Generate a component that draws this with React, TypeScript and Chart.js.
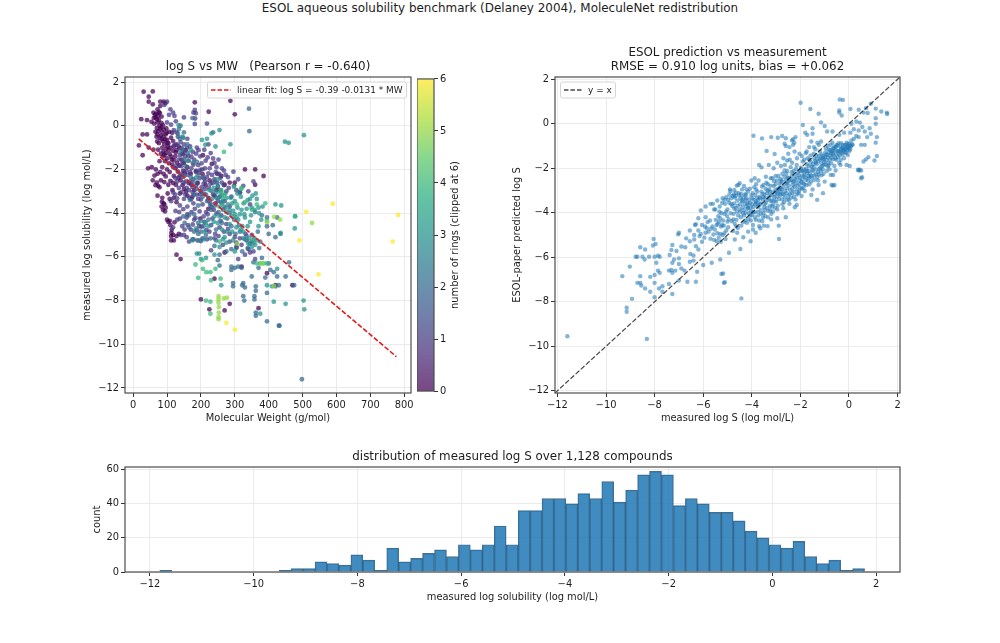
import { useEffect, useRef } from 'react'
import { Chart, registerables } from 'chart.js'

Chart.register(...registerables)

const FONT = '"DejaVu Sans", sans-serif'
const INK = '#1c1c1c'

const rings0 = [
  [31,1.56],[58,1.57],[46,1.33],[46,1.1],[58,0.98],[80,1.1],[90,1.1],[95,1.03],[80,0.9],[72,0.75],[182,1.07],[287,1.14],[300,0.52],[223,0.64],[24,0.3],[41,0.26],[54,0.18],[17,-0.9],[28,-0.4],[41,-0.4],[28,-1.35],[60,0.6],[64,0.5],[74,0.45],[70,0.3],[76,0.25],[72,0.15],[62,0.1],[78,0],[70,-0.1],[80,-0.15],[74,-0.25],[86,-0.3],[72,-0.4],[82,-0.45],[90,-0.5],[96,-0.4],[78,-0.55],[88,-0.7],[100,-0.65],[92,-0.85],[104,-0.8],[76,-0.8],[86,-1],[98,-1.05],[110,-1],[74,-1.1],[96,-1.25],[108,-1.3],[118,-1.15],[88,-1.4],[100,-1.5],[114,-1.55],[124,-1.4],[130,-1.7],[60,-1.1],[46,-1],[44,-1.95],[55,-1.9],[67,-2],[72,-2.2],[58,-2.5],[70,-2.6],[74,-2.75],[82,-2.5],[90,-2.2],[100,-2],[86,-1.9],[72,-3.2],[86,-3.3],[92,-3.6],[88,-3.85],[96,-3.75],[84,-3.7],[100,-4.3],[108,-4.35],[110,-4.55],[114,-4.75],[112,-5.05],[112,-5.25],[128,-5.05],[120,-5.25],[128,-5.9],[140,-6.1],[120,-2.3],[132,-2.1],[140,-2.5],[126,-2.7],[150,-2.9],[138,-3.1],[120,-3.3],[128,-3.5],[160,-3.2],[172,-2.7],[170,-2.2],[160,-1.9],[150,-1.7],[146,-1.3],[136,-1],[128,-0.85],[118,-0.7],[112,-0.55],
  [385,-2.3],[360,-2],[360,-2.7],[330,-2],[200,-3],[222,-3.3],[240,-3.2],[260,-2.3],[270,-2.7],[285,-2.6],[200,-7.95],[225,-8.4],[240,-7],[270,-8.45],[285,-8.15],[370,-8.35],[320,-6.45],[395,-6.75],[420,-7.3],[470,-7.3],[148,-2.05],[104,-2.7],[116,-2.95],[206,-1.35],[232,-1.75],[185,-2.1],[226,-2.5],[248,-2.2],[305,-5.55],[270,-5.8],
  [66,0.38],[68,0.55],[61,0.35],[79,0.58],[84,0.12],[88,0.02],[66,-0.28],[69,-0.5],[83,-0.08],[91,-0.18],[94,-0.62],[99,-0.32],[102,-0.95],[84,-0.62],[71,-0.72],[89,-1.18],[93,-1.33],[105,-1.12],[112,-1.42],[82,-1.28],[120,-1.58],[126,-1.22],[116,-1.78],[106,-1.72],[94,-1.62],[78,-1.62],[80,-2.12],[96,-2.32],[108,-2.12],[63,-2.28],[66,-2.72],[78,-2.82],[92,-2.58],[110,-2.52],[118,-2.62],[134,-2.38],[146,-2.72],[156,-3.02],[85,-3.48],[94,-3.92],[90,-3.55],[102,-3.1],[108,-3.35],[104,-4.4],[113,-4.9],[122,-4.42],[118,-5],[135,-4.95],[125,-1.95],[137,-1.82],[143,-1.55],[152,-2.18],[164,-2.62],[155,-1.12],[128,-1.12],[98,-0.12],[106,-0.28],[76,0.62],[84,0.42],[101,-0.78],[120,-0.95],[115,-0.32],[175,-3.25],[190,-2.62],[205,-2.22],[180,-2.95],[214,-2.72],[246,-2.95],[300,-2.6],[315,-3.05],[222,-3.8],[198,-4.25]
]
const rings1 = [
  [100,1.1],[92,0.95],[110,0.75],[118,0.6],[122,0.45],[106,0.5],[126,0.2],[100,0.15],[112,0.05],[150,0.38],[182,0.72],[185,0.57],[178,0.6],[183,0.33],[182,0.08],[218,0.1],[120,-0.2],[132,-0.5],[140,-0.75],[150,-0.85],[160,-0.6],[168,-0.95],[176,-1.2],[188,-1],[198,-1.4],[210,-1.1],[222,-0.85],[118,-1.9],[134,-1.55],[142,-1.85],[154,-1.4],[164,-1.6],[172,-1.95],[180,-1.55],[192,-1.8],[204,-2],[214,-1.6],[226,-1.95],[236,-1.5],[246,-1.9],[254,-2.2],[268,-2.05],[280,-2.35],[296,-2.1],[310,-2.45],[125,-2.4],[135,-2.85],[145,-2.35],[155,-2.55],[165,-2.95],[178,-2.45],[186,-2.75],[196,-2.4],[208,-2.65],[218,-2.35],[228,-2.65],[240,-2.45],[250,-2.8],[262,-2.6],[275,-3],[290,-3.25],[305,-2.95],[112,-3.45],[125,-3.9],[138,-3.65],[150,-3.35],[160,-3.7],[172,-3.35],[182,-3.8],[192,-3.35],[205,-3.6],[215,-3.95],[228,-3.55],[238,-3.85],[250,-3.45],[130,-4.3],[145,-4.6],[158,-4.2],[170,-4.75],[180,-4.3],[195,-4.6],[210,-4.4],[225,-4.85],[118,-4.65],[150,-5],[165,-5.3],[178,-5.2],[205,-5.15],[260,-4.1],[275,-4.5],[285,-4.95],[300,-5.1],[320,-5.45],[340,-5.65],[350,-5],[310,-6.1],[330,-5.9],[360,-6.1],[230,-5.7],[218,-5.2],[190,-5.25],[124,-3.15],[142,-2.2],[160,-2.25],[194,-2.15],[212,-2.9],[236,-3.15],[258,-2.95],[198,-3.15],[176,-3.05],[270,-3.45],[285,-3.7],[355,-2.55],[340,-3],[325,-2.75],
  [128,-0.3],[122,-0.88],[133,-0.92],[143,-1.02],[150,-1.22],[158,-1.02],[163,-1.38],[172,-1.42],[186,-1.28],[193,-1.12],[202,-1.72],[212,-1.95],[220,-1.45],[229,-1.25],[240,-1.7],[252,-1.55],[262,-1.95],[273,-2.25],[130,-1.85],[138,-1.35],[146,-1.68],[157,-2.05],[168,-2.12],[178,-1.78],[186,-2.05],[198,-2.02],[209,-2.42],[222,-2.18],[233,-2.25],[244,-2.12],[258,-2.38],[130,-2.55],[138,-2.28],[149,-2.62],[158,-2.85],[168,-2.55],[176,-2.82],[190,-2.62],[202,-2.82],[213,-2.55],[224,-2.85],[235,-2.62],[248,-2.62],[268,-2.72],[282,-2.85],[298,-2.75],[118,-3.05],[130,-3.32],[142,-3.05],[154,-3.15],[166,-3.3],[178,-3.55],[188,-3.15],[200,-3.38],[210,-3.12],[222,-3.42],[232,-3.72],[243,-3.55],[255,-3.25],[136,-3.95],[148,-3.82],[160,-4.05],[172,-3.95],[184,-4.22],[196,-3.92],[208,-4.15],[220,-4.05],[234,-4.25],[246,-4.02],[258,-4.35],[138,-4.25],[152,-4.75],[162,-4.55],[176,-4.52],[188,-4.78],[202,-4.62],[216,-4.78],[230,-4.55],[242,-4.95],[255,-4.65],[268,-4.85],[280,-4.72],[140,-5],[158,-5.1],[200,-5.28],[240,-5.15],[252,-5.05],[265,-5.45],[285,-5.3],[305,-5.35],[315,-5.15],[335,-5.25],[345,-5.8],[355,-5.75],[332,-4.95],[345,-3.6]
]
const rings2 = [
  [342,0.78],[343,-0.25],[236,-0.3],[140,0],[135,-0.15],[148,-0.55],[175,0.35],[140,-1.2],[155,-1.85],[170,-2.35],[150,-2.3],[188,-2.9],[200,-3],[215,-3.15],[232,-3],[245,-3.3],[260,-3.5],[272,-3.75],[285,-4],[298,-4.3],[312,-4.55],[262,-4.45],[245,-4.75],[180,-4.05],[165,-4.1],[152,-4.45],[192,-4.95],[175,-5.2],[200,-4.85],[215,-5],[240,-5.5],[255,-5.9],[275,-5.75],[290,-5.65],[305,-5.6],[322,-5.75],[338,-5.6],[345,-5.4],[375,-5.3],[250,-6.15],[255,-6.4],[290,-6.6],[290,-6.45],[310,-6.45],[320,-6.5],[295,-7.2],[295,-7.35],[325,-7.2],[322,-7.3],[330,-7.4],[350,-6.9],[362,-7.35],[362,-7.55],[325,-7.8],[328,-8],[358,-7.8],[358,-7.95],[395,-7.65],[362,-8.55],[362,-8.7],[395,-8.95],[430,-9.15],[432,-9.15],[498,-11.6],[400,-6.3],[405,-6.6],[415,-6.7],[425,-6.9],[430,-7.3],[420,-7.35],[400,-4.95],[395,-4.6],[412,-4.55],[460,-6.25],[475,-7.3],[450,-6.9],[420,-5.1],[435,-4.95],[380,-4.1],[360,-3.95],[395,-4.2],[425,-4.2],[380,-6.05],[372,-5.6],[315,-3.05],[228,-3.65],[222,-4.3],[146,-1.1],[188,-1.65],[206,-2.35],[242,-2.55],
  [132,-0.35],[138,-0.6],[150,-0.3],[160,-0.85],[150,-1.55],[162,-1.25],[176,-1.7],[190,-2.25],[176,-2.6],[168,-3.4],[180,-3.15],[192,-3.65],[205,-3.25],[218,-3.45],[230,-3.85],[242,-3.65],[252,-3.95],[265,-3.85],[278,-4.25],[290,-4.6],[302,-4.95],[315,-4.85],[325,-5.15],[335,-5.05],[350,-5.3],[358,-5.15],[368,-4.85],[148,-4.15],[165,-4.65],[180,-4.85],[192,-4.45],[208,-4.6],[228,-5.15],[245,-5.25],[300,-6.5],[370,-6.5],[390,-6.95],[355,-6.25]
]
const rings3 = [
  [448,-0.73],[459,-0.78],[504,-0.43],[255,-0.2],[134,0.03],[145,-0.5],[203,-0.65],[218,-0.6],[213,-0.87],[243,-0.95],[231,-0.35],[287,-0.85],[160,-1.6],[170,-1.1],[185,-2.4],[250,-2.75],[258,-3.05],[265,-3.4],[272,-3.1],[280,-3.6],[288,-3.3],[295,-3.9],[300,-3.45],[308,-3.75],[318,-3.25],[326,-3.55],[335,-3.8],[345,-3.35],[352,-3.2],[362,-3.1],[370,-3.75],[382,-3.7],[378,-4.3],[345,-4.4],[330,-4.2],[315,-4.05],[305,-4.65],[285,-4.5],[270,-4.2],[255,-4.15],[238,-4.4],[222,-4.6],[210,-4.85],[195,-5.25],[175,-5.25],[265,-5.2],[275,-5.35],[295,-5.25],[340,-5.4],[350,-5.55],[360,-5.45],[420,-3.6],[437,-3.65],[478,-4.14],[477,-4.7],[450,-8.15],[503,-8],[505,-8.4],[375,-8.6],[395,-7.3],[415,-8.05],[410,-7.35],[195,-5.85],[188,-5.85],[210,-5.2],[240,-5.9],[260,-7.3],[255,-3.7],[275,-3.95],[292,-4.15],[308,-3.1],[322,-4.6],[250,-2.45],[262,-3.2],[338,-4.6],[350,-3.75],[325,-4.85],[232,-3.35],[300,-5.75],[425,-6.55],[435,-4.9],[270,-5.1],
  [225,-2.95],[238,-2.85],[245,-3.05],[252,-3.3],[262,-3.55],[268,-3.7],[276,-3.3],[284,-3.85],[292,-3.55],[300,-4.05],[310,-4.3],[320,-3.85],[328,-4.05],[338,-3.4],[348,-4.1],[358,-3.85],[365,-3.35],[372,-4],[240,-4.15],[250,-4.45],[262,-4.75],[278,-4.85],[292,-4.85],[305,-4.2],[318,-4.75],[330,-5.2],[342,-5.15],[355,-5.35],[365,-5.25],[215,-4.45],[200,-4.35],[185,-4.7],[255,-5.55],[200,-6.1],[215,-6.05],[370,-4.6]
]
const rings4 = [
  [184,-6.35],[204,-6.15],[192,-6.96],[206,-6.55],[228,-6.7],[243,-6.55],[216,-6.7],[230,-7.07],[258,-7],[215,-8],[228,-8.05],[228,-8.6],[395,-6.3],[365,-6.3],[375,-6.3],[385,-6.3],[297,-2.8],[319,-2.9],[268,-1.2],[320,-2.85],[260,-2.95],[268,-3.2],[306,-3.6],[330,-3.5],[350,-3.85],[365,-3.6],[390,-3.55],[355,-5.2],[255,-5.3],[478,-4.15],[395,-4.35]
]
const rings5 = [
  [252,-7.8],[252,-7.95],[252,-8.1],[253,-8.3],[253,-8.55],[252,-8.75],[252,-8.85],[268,-7.9],[277,-7.87],[380,-6.3],[416,-4.17],[434,-4.3],[395,-4.4],[528,-4.45],[307,-5.4],[416,-7.33]
]
const rings6 = [
  [589,-3.57],[511,-3.94],[782,-4.08],[491,-5.25],[766,-5.3],[547,-6.8],[275,-9.02],[300,-9.33]
]
const ringGroups = [rings0, rings1, rings2, rings3, rings4, rings5, rings6]

// viridis at 0, 1/6 .. 1
const ringColors = [
  'rgba(68,1,84,0.72)', 'rgba(68,57,131,0.72)', 'rgba(49,104,142,0.72)', 'rgba(33,145,140,0.72)',
  'rgba(53,183,121,0.72)', 'rgba(144,215,67,0.72)', 'rgba(253,231,37,0.72)'
]
const colorbarStops = [
  'rgba(68,1,84,0.72)', 'rgba(71,44,122,0.72)', 'rgba(59,81,139,0.72)', 'rgba(44,113,142,0.72)', 'rgba(33,144,141,0.72)',
  'rgba(39,173,129,0.72)', 'rgba(92,200,99,0.72)', 'rgba(170,220,50,0.72)', 'rgba(253,231,37,0.72)'
]

const fitX = [16.5, 777]
const fitY = [-0.6, -10.57]

// tick positions
const mwTicks = [0, 100, 200, 300, 400, 500, 600, 700, 800]
const logTicks = [-12, -10, -8, -6, -4, -2, 0, 2]
const countTicks = [0, 20, 40, 60]

// ESOL predicted vs measured [measured, predicted]
const predicted = [
  [-11.59,-9.55],[-8.32,-9.67],[-4.43,-7.85],[-9.33,-6.85],[-9.02,-6.42],[-8.78,-5.98],[-8.71,-5.98],[-8.5,-5.98],[-8.41,-6.1],[-8.23,-5.98],[-8,-5.98],[-7.86,-5.93],[-7.79,-5.98],[-8.59,-5.55],[-8.39,-5.65],[-8.04,-5.18],[-7.96,-5.4],[-8.07,-5.47],[-7.93,-6.25],[-8.59,-6.85],[-8.71,-7.15],[-8.59,-7.15],[-8.55,-7.27],[-8.39,-7.4],[-8.18,-7.55],[-8.18,-6.88],[-8,-6.8],[-7.86,-6.6],[-7.79,-6.7],[-8,-7.15],[-7.82,-7.4],[-7.68,-7.3],[-7.41,-7.2],[-8.93,-7.87],[-9.15,-8.27],[-9.15,-8.45],[-8,-7.8],[-7.68,-7.55],[-7.27,-7.65],[-7.41,-6.6],[-7.31,-6.57],[-7.27,-6.25],[-7.38,-5.9],[-7.31,-5.67],[-7.27,-5.45],[-7.1,-5.72],[-6.9,-5.52],[-6.74,-5.55],[-6.53,-5.85],[-6.4,-5.92],[-7.2,-6.1],[-7,-6.05],[-7,-6.3],[-7.27,-6.7],[-7.15,-6.6],[-6.9,-6.5],[-6.77,-6.6],[-6.55,-6.2],[-6.4,-6.15],[-7,-7.05],[-6.65,-7.1],[-6.3,-7.1],[-6.25,-6.65],[-6,-6.35],[-5.65,-6.25],[-5.25,-6.75],[-5.15,-7.15],[-7,-4.9],[-7.03,-4.97],[-6.55,-4.8],[-6.7,-5.15],[-6.55,-5.28],[-6.37,-5.2],[-6.3,-5.5],[-6.2,-5.65],[-6.3,-4.52],[-6.34,-4.55],[-6.2,-4.8],[-6.37,-5],[-6.1,-4.95],[-5.9,-4.9],[-5.85,-4.7],[-6.05,-4.55],[-5.9,-4.2],[-6.1,-3.9],[-5.9,-3.72],[-5.7,-3.6],[-5.55,-3.85],[-5.4,-4.5],[-5.45,-4.55],[-5.35,-4.4],[-5.7,-5.17],[-5.55,-5.22],[-5.3,-4.95],[-5.2,-5],[-5.05,-4.8],[-5,-4.4],
  [-5.6,-3.6],[-5.5,-3.85],[-5.3,-4.25],[-5.2,-3.35],[-5.1,-3.6],[-5.05,-3.3],[-5,-3.85],[-4.95,-4.3],[-4.9,-2.95],[-4.85,-3.35],[-4.8,-3.7],[-4.75,-4.05],[-4.7,-4.5],[-4.65,-3.1],[-4.6,-3.45],[-4.55,-2.75],[-4.5,-3.85],[-4.45,-4.2],[-4.4,-2.95],[-4.35,-3.3],[-4.3,-3.6],[-4.25,-4],[-4.2,-4.45],[-4.15,-3.05],[-4.1,-3.4],[-4.05,-3.75],[-4,-4.1],[-3.95,-4.55],[-3.9,-2.85],[-3.85,-3.2],[-3.8,-3.55],[-3.75,-3.95],[-3.7,-4.35],[-3.65,-4.7],[-3.6,-3.05],[-3.55,-3.4],[-3.5,-3.75],[-3.45,-4.15],[-3.4,-2.65],[-3.35,-3],[-3.3,-3.35],[-3.25,-3.7],[-3.2,-4.05],[-3.15,-2.45],[-3.1,-2.8],[-3.05,-3.15],[-3,-3.5],[-2.95,-3.85],[-2.9,-2.35],[-2.85,-2.7],[-2.8,-3.05],[-2.75,-3.4],[-2.7,-3.8],[-2.65,-2.1],[-2.6,-2.55],[-2.55,-2.9],[-2.5,-3.25],[-2.45,-3.6],[-2.4,-1.95],[-2.35,-2.35],[-2.3,-2.75],[-2.25,-3.05],[-2.2,-3.4],[-2.15,-1.85],[-2.1,-2.2],[-2.05,-2.55],[-2,-2.9],[-1.95,-3.25],
  [-4.88,-3.02],[-4.78,-3.25],[-4.72,-3.82],[-4.62,-3.95],[-4.48,-3.62],[-4.38,-3.75],[-4.28,-3.18],[-4.18,-3.55],[-4.12,-4.02],[-4.02,-3.22],[-3.98,-3.62],[-3.88,-3.98],[-3.78,-3.35],[-3.72,-3.72],[-3.62,-4.05],[-3.58,-2.82],[-3.48,-3.18],[-3.42,-3.55],[-3.32,-3.92],[-3.28,-2.95],[-3.18,-3.22],[-3.12,-3.62],[-3.02,-2.72],[-2.98,-3.05],[-2.88,-3.38],[-2.82,-2.48],[-2.72,-2.85],[-2.68,-3.18],[-2.58,-2.25],[-2.52,-2.62],[-2.42,-2.98],[-2.38,-3.32],[-2.28,-2.12],[-2.22,-2.48],[-2.12,-2.78],[-2.08,-3.12],[-1.98,-1.98],[-1.92,-2.32],[-1.88,-2.68],[-1.82,-3.02],[-4.42,-3.45],[-4.58,-3.68],[-4.32,-4.12],[-4.22,-3.72],[-4.08,-2.92],[-3.92,-3.42],[-3.82,-2.95],[-3.68,-3.28],[-3.52,-4.02],[-3.38,-3.12],[-3.22,-3.48],[-3.08,-2.58],[-2.92,-2.92],[-2.78,-2.62],[-2.62,-3.02],[-2.48,-2.42],[-2.32,-2.62],[-2.18,-2.02],[-2.02,-2.42],[-1.9,-2.12],
  [-3.93,-0.54],[-3.58,-0.66],[-2.93,-0.63],[-3.39,-1.22],[-3.06,-1.36],[-3.7,-1.85],[-3.6,-1.96],[-3.88,-2.45],[-4.5,-2.67],[-2.88,-5.18],[-2.89,-4.58],[-3.5,-4.58],[-3.84,-4.9],[-4.05,-5.28],[-4.47,-5.63],[-4.94,-5.8],[-5.18,-6.73],[-5.11,-7.12],[-5.3,-6.1],[-2.23,-3.75],[-2.15,-3.65],[-1.55,-3.2],[-1.31,-3.42],[-1.07,-3.12],[-0.72,-2.75],[-0.66,-2.78],[0.03,-1.9],[0.37,-2.07],[0.44,-2.07],[0.54,-2.4],[-3.7,-4.6],[-3.35,-4.6],[-3.2,-4.3],[-2.95,-4.25],[-2.6,-4.2],[-4.6,-4.9],[-4.35,-5.1],[-4.15,-4.85],[-4.7,-5.2],[-3.95,-4.75],[-2.5,-1.35],[-2.45,-1.05],[-2.35,-0.75],[-2.3,-0.95],[-2.2,-0.6],[-2.55,-1.65],[-3.3,-1.85],[-3.1,-2],[-2.95,-1.75],[-2.8,-1.9],[-2.7,-1.55],
  [-1.99,0.94],[-1.59,0.66],[-1.25,0.45],[-0.38,1.09],[-0.25,1.07],[-0.4,0.6],[-0.4,0.5],[-0.3,0.37],[0.06,0.66],[0.4,0.63],[0.7,0.7],[0.6,0.5],[0.77,0.48],[0.9,0.9],[1.1,0.68],[1.33,0.55],[1.56,0.5],[1.57,0.44],[-1.9,-0.06],[-1.15,0.06],[-1,-0.1],[-1.5,-0.2],[-1.8,-0.4],[-1.72,-0.5],[-1.5,-0.45],[-3.2,-0.6],[-2.75,-0.55],[-2.6,-0.65],[-2.65,-0.9],[-2.3,-0.7],[-2.25,-0.85],[-2.6,-1],[-1.55,-0.8],[-1.3,-0.85],[-1.15,-0.8],[-0.9,-0.35],[-0.68,-0.35],[-0.4,-0.5],[-0.2,-0.4],[0.06,-0.4],[0.2,-0.25],[0.4,-0.3],[0.1,0],[0.3,0.1],[1.1,0.25],[1.1,0],[0.85,-0.2],[0.9,-0.45],[1.15,-0.6],[1.1,-0.85],[0.65,-0.95],[0.4,-0.6],[0.05,-1],[1.15,-1.45],[0.8,-1.5],[0.7,-1.6],[0.6,-1.7],[1.05,-1.65],[-0.1,-1.85],[-0.35,-1.85],[-0.55,-2.1],[0.4,-2.1],[0.5,-2.1],[0.5,-2.45],[-0.6,-2.75],[-0.75,-2.3],[-0.65,-2.3],
  [-1.9,-1.7],[-1.85,-2.05],[-1.8,-2.4],[-1.75,-2.75],[-1.7,-1.55],[-1.65,-1.9],[-1.6,-2.25],[-1.55,-2.6],[-1.5,-2.95],[-1.45,-1.35],[-1.4,-1.7],[-1.35,-2.05],[-1.3,-2.4],[-1.25,-2.75],[-1.2,-1.25],[-1.15,-1.55],[-1.1,-1.9],[-1.05,-2.25],[-1,-2.6],[-0.95,-1.1],[-0.9,-1.4],[-0.85,-1.75],[-0.8,-2.05],[-0.75,-0.95],[-0.7,-1.25],[-0.65,-1.6],[-0.6,-1.9],[-0.55,-1.2],[-0.5,-0.95],[-0.45,-1.5],[-0.4,-1.75],[-0.35,-1.05],[-0.3,-1.3],[-0.25,-0.95],[-0.2,-1.55],[-0.15,-1.15],[-0.1,-0.85],[-0.05,-1.4],[0,-0.9],[0.05,-1.15],[0.1,-0.75],[0.15,-0.95],[-1.72,-2.12],[-1.62,-1.62],[-1.52,-2.08],[-1.42,-2.52],[-1.32,-1.58],[-1.22,-2.02],[-1.12,-1.38],[-1.02,-1.72],[-0.92,-2.12],[-0.82,-1.28],[-0.72,-1.52],[-0.62,-1.08],[-0.52,-1.62],[-0.42,-1.22],[-0.32,-0.88],[-0.22,-1.18],[-0.12,-1.32],[-0.02,-1.08],[-1.78,-1.32],[-1.68,-2.55],[-1.58,-1.42],[-1.48,-1.82],[-1.38,-1.15],[-1.28,-2.18],[-1.18,-1.62],[-1.08,-2.05],[-0.98,-1.5],[-0.88,-0.98],[-0.78,-1.62],[-0.68,-0.85],[0.3,-0.55],[0.5,-0.95],[0.2,-0.68],[0.75,-0.6],[0.55,-0.15],[0.65,-0.35],[0.45,0.05],
  [-5.62,-4.62],[-5.58,-4.98],[-5.44,-5.28],[-5.36,-5.12],[-5.27,-4.62],[-5.18,-4.35],[-5.13,-4.92],[-5.08,-5.18],[-4.97,-4.65],[-4.93,-3.55],[-4.87,-4.02],[-4.82,-4.38],[-4.77,-4.82],[-4.73,-3.58],[-4.68,-3.25],[-4.63,-4.32],[-4.57,-4.68],[-4.52,-3.22],[-4.47,-3.95],[-4.43,-4.58],[-4.37,-3.48],[-4.33,-3.88],[-4.27,-4.35],[-4.23,-3.35],[-4.17,-3.82],[-4.13,-4.28],[-4.07,-3.55],[-4.03,-3.92],[-3.97,-3.35],[-3.93,-3.75],[-3.87,-4.2],[-3.83,-3.52],[-3.77,-3.05],[-3.73,-4.12],[-3.67,-3.62],[-3.63,-3.88],[-3.57,-4.38],[-3.53,-3.3],[-3.47,-3.62],[-3.43,-2.92],[-3.37,-3.78],[-3.33,-4.2],[-3.27,-3.22],[-3.23,-2.78],[-3.17,-3.45],[-3.13,-3.95],[-3.07,-3.3],[-3.03,-2.98],[-2.97,-3.28],[-2.93,-3.68],[-2.87,-2.95],[-2.83,-3.22],[-2.77,-2.55],[-2.73,-3.15],[-2.67,-3.52],[-2.63,-2.72],[-2.57,-3.12],[-2.53,-2.42],[-2.47,-2.78],[-2.43,-3.15],[-2.37,-2.52],[-2.33,-2.92],[-2.27,-3.28],[-2.23,-2.28],[-2.17,-2.65],[-2.13,-2.95],[-2.07,-2.32],[-2.03,-2.72],[-1.97,-2.12],[-1.93,-2.52],[-1.87,-2.88],[-1.83,-2.18],[-1.77,-2.52],[-1.73,-1.82],[-1.67,-2.35],[-1.63,-2.72],[-1.57,-1.72],[-1.53,-2.42],[-1.47,-2.12],[-1.43,-1.55],[-1.37,-2.28],[-1.33,-1.82],[-1.27,-2.55],[-1.23,-1.45],[-1.17,-1.95],[-1.13,-2.32],[-1.07,-1.55],[-1.03,-1.85],[-0.97,-1.28],[-0.93,-1.62],[-0.87,-1.92],[-0.83,-1.15],[-0.77,-1.42],[-0.73,-1.78],[-0.67,-1.12],[-0.63,-1.42],[-0.57,-1.02],[-0.53,-1.38],[-0.47,-1.22],[-0.43,-0.88],[-0.37,-1.42],[-0.33,-1.15],[-0.27,-1.08],[-0.23,-1.22],[-0.17,-0.98],[-0.13,-1.12],[-0.07,-1.02],[-0.03,-0.92],
  [-4.92,-3.18],[-4.84,-3.62],[-4.7,-3.32],[-4.66,-3.78],[-4.54,-3.12],[-4.46,-3.35],[-4.36,-4.02],[-4.26,-3.42],[-4.16,-3.62],[-4.06,-4.12],[-3.96,-3.12],[-3.86,-3.62],[-3.76,-3.72],[-3.66,-3.35],[-3.56,-3.15],[-3.46,-3.88],[-3.36,-3.42],[-3.26,-3.05],[-3.16,-3.72],[-3.06,-3.45],[-2.96,-2.55],[-2.86,-3.15],[-2.76,-2.95],[-2.66,-2.38],[-2.56,-2.68],[-2.46,-3.42],[-2.36,-2.18],[-2.26,-2.58],[-2.16,-2.42],[-2.06,-3.05],[-1.96,-2.62],[-1.86,-2.35],[-1.76,-2.02],[-1.66,-2.12],[-1.56,-2.35],[-1.46,-1.95],[-1.36,-1.75],[-1.26,-1.68],[-1.16,-2.12],[-1.06,-1.45],[-0.96,-1.82],[-0.86,-1.52],[-0.76,-1.18],[-0.66,-1.35],[-0.56,-1.55],[-0.46,-0.98],[-0.36,-1.25],[-0.26,-1.38],[-0.16,-1.28],[-0.06,-1.18],[0.02,-1.22],[0.12,-0.92],[-2.74,-2.25],[-2.54,-2.12],[-2.34,-1.75],[-2.14,-1.55],[-2.04,-1.35],[-2.24,-1.25],[-1.94,-1.45],[-1.74,-1.25],[-1.64,-1.05],[-1.44,-1.05],[-1.24,-0.95],[-1.84,-1.62],[-2.44,-1.62],[-2.64,-1.85],[-3.02,-2.35],[-3.22,-2.45],[-3.42,-2.38],[-3.52,-2.75],[-3.72,-2.55],[-3.82,-2.72],[-4.02,-2.55],[-4.22,-2.95],[-4.32,-2.8],[-4.62,-2.78],[-4.72,-2.98],[-5.22,-3.55],[-5.32,-3.72],[-5.42,-3.45],[-5.12,-4.05],[-5.02,-4.15],[-5.25,-4.02],[-5.15,-4.58],
  [-6.2,-4.25],[-6.15,-5.05],[-6.05,-5.3],[-5.95,-5.12],[-5.92,-4.62],[-5.82,-4.42],[-5.78,-4.85],[-5.72,-4.35],[-5.68,-4.72],[-5.52,-4.75],[-5.48,-4.32],[-5.42,-4.92],[-5.38,-4.15],[-5.33,-3.95],[-5.28,-5.3],[-5.22,-4.55],[-5.12,-3.42],[-5.06,-3.95],[-4.98,-3.42],[-4.76,-4.3],[-4.74,-3.18],[-4.64,-4.62],[-4.56,-4.12],[-4.44,-3.15],[-4.34,-4.42],[-4.24,-3.18],[-4.14,-3.78],[-4.04,-4.35],[-3.94,-3.98],[-3.84,-4.32],[-3.74,-3.42],[-3.64,-3.58],[-3.54,-4.22],[-3.44,-3.32],[-3.34,-2.72],[-3.24,-3.88],[-3.14,-3.08],[-3.04,-3.78],[-2.94,-3.12],[-2.84,-2.88],[-2.74,-3.62],[-2.64,-3.32],[-2.54,-3.42],[-2.44,-2.55],[-2.34,-3.12],[-2.24,-2.82],[-2.14,-3.18],[-2.04,-2.12],[-1.94,-2.92],[-1.84,-2.72],[-1.74,-2.22],[-1.64,-2.42],[-1.54,-1.92],[-1.44,-2.32],[-1.34,-1.42],[-1.24,-2.28],[-1.14,-1.78],[-1.04,-1.62],[-0.94,-1.38],[-0.84,-1.88],[-0.74,-1.32],[-0.64,-1.22],[-0.54,-1.05],[-0.44,-1.32],[-0.34,-1.62],[-0.24,-1.12],[-0.14,-0.95],[-0.04,-1.05],[0.08,-1.02]
]

const histCenters = [
  -11.695,-11.465,-11.234,-11.004,-10.774,-10.544,-10.313,-10.083,-9.853,-9.622,-9.392,-9.162,-8.931,-8.701,-8.471,-8.241,-8.01,-7.78,-7.55,-7.319,-7.089,-6.859,-6.629,-6.398,-6.168,-5.938,-5.707,-5.477,-5.247,-5.016,-4.786,-4.556,-4.326,-4.095,-3.865,-3.635,-3.404,-3.174,-2.944,-2.714,-2.483,-2.253,-2.023,-1.792,-1.562,-1.332,-1.101,-0.871,-0.641,-0.411,-0.18,0.05,0.28,0.511,0.741,0.971,1.202,1.432,1.662
]
const histCounts = [
  1,0,0,0,0,0,0,0,0,0,1,2,2,6,5,4,10,7,1,14,6,8,11,13,9,16,13,16,27,16,36,36,43,43,40,46,43,53,41,48,57,59,57,39,43,40,35,35,30,24,20,16,14,18,9,5,7,1,2
]

const minusTick = (v) => String(v).replace('-', '\u2212')

const axis = (min, max, tickList, title, size) => ({
  type: 'linear',
  min,
  max,
  bounds: 'data',
  afterFit: (s) => {
    if (s.isHorizontal()) s.height = size
    else s.width = size
  },
  afterBuildTicks: (s) => {
    s.ticks = tickList.map((value) => ({ value }))
  },
  title: { display: true, text: title, color: INK, font: { family: FONT, size: 9.9, lineHeight: '12px' }, padding: 0 },
  ticks: { maxRotation: 0, autoSkip: false, color: INK, font: { family: FONT, size: 9.9 }, padding: 2, callback: minusTick },
  grid: { color: '#ebebeb', lineWidth: 1, tickColor: '#333', tickLength: 4 },
  border: { display: false }
})

const titleOpts = (text) => ({
  display: true,
  fullSize: false,
  text,
  color: INK,
  font: { family: FONT, size: 11.9, weight: 'normal', lineHeight: Array.isArray(text) ? '14px' : '15px' },
  padding: { top: 2, bottom: 3 }
})

// matplotlib style box round the axes
const framePlugin = {
  id: 'frame',
  afterDraw(chart) {
    const { ctx, chartArea: a } = chart
    ctx.save()
    ctx.strokeStyle = '#4d4d4d'
    ctx.lineWidth = 1.2
    ctx.strokeRect(a.left, a.top, a.right - a.left, a.bottom - a.top)
    ctx.restore()
  }
}

const legendPlugin = (text, color, boxX, boxW, lineW, align) => ({
  id: 'legendBox',
  afterDraw(chart) {
    const { ctx, chartArea: a } = chart
    const x = align === 'right' ? a.right - boxX - boxW : a.left + boxX
    const y = a.top + 5
    ctx.save()
    ctx.fillStyle = 'rgba(255,255,255,0.85)'
    ctx.strokeStyle = '#d6d6d6'
    ctx.lineWidth = 1
    ctx.beginPath()
    ctx.roundRect(x, y, boxW, 16, 2)
    ctx.fill()
    ctx.stroke()
    ctx.strokeStyle = color
    ctx.lineWidth = 1.6
    ctx.setLineDash([4.5, 2])
    ctx.beginPath()
    ctx.moveTo(x + 3.5, y + 8)
    ctx.lineTo(x + 3.5 + lineW, y + 8)
    ctx.stroke()
    ctx.setLineDash([])
    ctx.fillStyle = INK
    ctx.font = `8.95px ${FONT}`
    ctx.textBaseline = 'middle'
    ctx.fillText(text, x + 3.5 + lineW + 6, y + 8.5)
    ctx.restore()
  }
})

// chart.js only rotates a right hand title clockwise, this one reads bottom-up
const colorbarTitle = {
  id: 'colorbarTitle',
  afterDraw(chart) {
    const { ctx, chartArea: a } = chart
    ctx.save()
    ctx.translate(a.right + 21, (a.top + a.bottom) / 2)
    ctx.rotate(-Math.PI / 2)
    ctx.fillStyle = INK
    ctx.font = `9.9px ${FONT}`
    ctx.textAlign = 'center'
    ctx.textBaseline = 'middle'
    ctx.fillText('number of rings (clipped at 6)', 0, 0)
    ctx.restore()
  }
}

const scatterConfig = {
  type: 'scatter',
  data: {
    datasets: [
      {
        data: fitX.map((x, i) => ({ x, y: fitY[i] })),
        showLine: true,
        pointRadius: 0,
        borderColor: '#e31a1c',
        borderWidth: 1.6,
        borderDash: [5, 2]
      },
      ...ringGroups.map((group, i) => ({
        data: group.map(([x, y]) => ({ x, y })),
        pointRadius: 2.4,
        pointBorderWidth: 0,
        pointBackgroundColor: ringColors[i]
      })).reverse()
    ]
  },
  options: {
    responsive: false,
    animation: false,
    layout: { padding: { right: 5 } },
    plugins: {
      legend: { display: false },
      tooltip: { enabled: false },
      title: titleOpts('log S vs MW   (Pearson r = -0.640)')
    },
    scales: {
      x: axis(-24, 820, mwTicks, 'Molecular Weight (g/mol)', 31),
      y: axis(-12.23, 2.23, logTicks, 'measured log solubility (log mol/L)', 44)
    }
  },
  plugins: [framePlugin, legendPlugin('linear fit: log S = -0.39 -0.0131 * MW', '#e31a1c', 4.5, 199, 20, 'right')]
}

const colorbarConfig = {
  type: 'bar',
  data: {
    labels: ['rings'],
    datasets: [{
      data: [6],
      barPercentage: 1,
      categoryPercentage: 1,
      backgroundColor: (c) => {
        const a = c.chart.chartArea
        if (!a) return colorbarStops[0]
        const g = c.chart.ctx.createLinearGradient(0, a.bottom, 0, a.top)
        colorbarStops.forEach((s, i) => g.addColorStop(i / (colorbarStops.length - 1), s))
        return g
      }
    }]
  },
  options: {
    responsive: false,
    animation: false,
    layout: { padding: { top: 6, bottom: 6 } },
    plugins: { legend: { display: false }, tooltip: { enabled: false } },
    scales: {
      x: { display: false },
      y: {
        position: 'right',
        min: 0,
        max: 6,
        afterFit: (s) => { s.width = 30 },
        ticks: { stepSize: 1, color: INK, font: { family: FONT, size: 9.9 }, padding: 2 },
        grid: { drawOnChartArea: false, tickColor: '#333', tickLength: 4 },
        border: { display: false }
      }
    }
  },
  plugins: [framePlugin, colorbarTitle]
}

const parityConfig = {
  type: 'scatter',
  data: {
    datasets: [
      {
        data: [{ x: -12.1, y: -12.1 }, { x: 2.1, y: 2.1 }],
        showLine: true,
        pointRadius: 0,
        borderColor: 'rgba(0,0,0,0.72)',
        borderWidth: 1.2,
        borderDash: [5, 2]
      },
      {
        data: predicted.map(([x, y]) => ({ x, y })),
        pointRadius: 2.2,
        pointBorderWidth: 0,
        pointBackgroundColor: 'rgba(31,119,180,0.55)'
      }
    ]
  },
  options: {
    responsive: false,
    animation: false,
    layout: { padding: { right: 6 } },
    plugins: {
      legend: { display: false },
      tooltip: { enabled: false },
      title: titleOpts(['ESOL prediction vs measurement', 'RMSE = 0.910 log units, bias = +0.062'])
    },
    scales: {
      x: axis(-12.1, 2.1, logTicks, 'measured log S (log mol/L)', 31),
      y: axis(-12.1, 2.1, logTicks, 'ESOL-paper predicted log S', 44)
    }
  },
  plugins: [framePlugin, legendPlugin('y = x', 'rgba(0,0,0,0.72)', 5.5, 55, 18, 'left')]
}

const histConfig = {
  type: 'bar',
  data: {
    datasets: [{
      data: histCenters.map((x, i) => ({ x, y: histCounts[i] })),
      barPercentage: 1,
      categoryPercentage: 1,
      backgroundColor: 'rgba(31,119,180,0.85)',
      borderColor: 'rgba(24,60,90,0.75)',
      borderWidth: 0.8
    }]
  },
  options: {
    responsive: false,
    animation: false,
    layout: { padding: { right: 6 } },
    plugins: {
      legend: { display: false },
      tooltip: { enabled: false },
      title: titleOpts('distribution of measured log S over 1,128 compounds')
    },
    scales: {
      x: { ...axis(-12.48, 2.46, logTicks, 'measured log solubility (log mol/L)', 31), offset: false, grid: { color: '#ebebeb', tickColor: '#333', tickLength: 4, offset: false } },
      y: axis(0, 61.6, countTicks, 'count', 34)
    }
  },
  plugins: [framePlugin]
}

function Panel({ left, top, width, height, config }) {
  const canvasRef = useRef(null)

  useEffect(() => {
    const chart = new Chart(canvasRef.current, config)
    return () => chart.destroy()
  }, [config])

  return (
    <canvas
      ref={canvasRef}
      width={width}
      height={height}
      style={{ position: 'absolute', left, top, width, height }}
    />
  )
}

export default function App() {
  return (
    <div style={{ position: 'absolute', left: 0, top: 0, width: 1000, height: 643, background: '#fff', overflow: 'hidden' }}>
      <div style={{ position: 'absolute', left: 0, top: 1, width: 1000, textAlign: 'center', font: `11.95px/15px ${FONT}`, color: INK }}>
        ESOL aqueous solubility benchmark (Delaney 2004), MoleculeNet redistribution
      </div>
      <Panel left={81} top={57} width={335} height={367} config={scatterConfig} />
      <Panel left={417} top={71} width={47} height={328} config={colorbarConfig} />
      <Panel left={511} top={44} width={395} height={380} config={parityConfig} />
      <Panel left={91} top={447} width={815} height={156} config={histConfig} />
    </div>
  )
}
